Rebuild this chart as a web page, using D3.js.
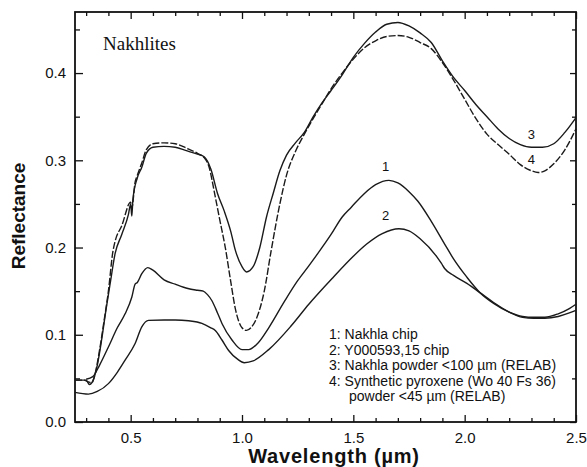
<!DOCTYPE html>
<html>
<head>
<meta charset="utf-8">
<script src="https://cdn.jsdelivr.net/npm/d3@7"></script>
<style>
  body { margin: 0; background: #fff; }
  svg text { font-family: "Liberation Sans", Arial, sans-serif; fill: #111; }
</style>
</head>
<body>
<svg id="chart" width="587" height="467"></svg>
<script>
// spectra (wavelength in um, reflectance)
var wl1 = [0.30,0.33,0.36,0.40,0.44,0.475,0.505,0.52,0.53,0.55,0.577,0.60,0.65,0.70,0.757,0.80,0.826,0.845,0.865,0.89,0.91,0.955,1.00,1.03,1.07,1.12,1.19,1.25,1.30,1.34,1.40,1.45,1.49,1.55,1.60,1.66,1.70,1.75,1.79,1.85,1.91,1.95,2.01,2.07,2.13,2.20,2.26,2.31,2.36,2.42,2.47,2.50];
var refl1 = [0.049,0.052,0.065,0.086,0.108,0.124,0.143,0.158,0.160,0.170,0.177,0.174,0.163,0.158,0.153,0.151,0.150,0.146,0.139,0.125,0.113,0.094,0.083,0.083,0.090,0.108,0.138,0.162,0.179,0.193,0.215,0.235,0.246,0.262,0.272,0.277,0.274,0.264,0.253,0.230,0.204,0.187,0.166,0.148,0.136,0.126,0.121,0.120,0.120,0.124,0.130,0.135];

var wl2 = [0.25,0.31,0.35,0.40,0.44,0.475,0.52,0.55,0.58,0.65,0.70,0.76,0.82,0.86,0.88,0.91,0.94,0.98,1.01,1.05,1.12,1.22,1.30,1.41,1.50,1.56,1.63,1.705,1.75,1.80,1.876,1.895,1.91,1.95,2.01,2.07,2.13,2.20,2.26,2.31,2.36,2.42,2.47,2.50];
var refl2 = [0.034,0.032,0.035,0.044,0.057,0.071,0.090,0.109,0.1165,0.117,0.117,0.116,0.113,0.108,0.105,0.094,0.082,0.072,0.068,0.070,0.083,0.110,0.135,0.166,0.190,0.204,0.216,0.2215,0.219,0.210,0.189,0.182,0.176,0.168,0.159,0.148,0.137,0.126,0.120,0.119,0.119,0.121,0.125,0.128];

var wl3 = [0.25,0.30,0.315,0.33,0.35,0.37,0.39,0.41,0.43,0.46,0.49,0.50,0.505,0.51,0.53,0.55,0.57,0.60,0.65,0.70,0.75,0.80,0.83,0.86,0.89,0.92,0.95,0.97,1.00,1.02,1.05,1.08,1.11,1.14,1.17,1.20,1.24,1.28,1.32,1.36,1.40,1.45,1.50,1.55,1.60,1.65,1.70,1.75,1.80,1.85,1.90,1.95,2.00,2.05,2.10,2.15,2.20,2.25,2.30,2.35,2.40,2.45,2.50];
var refl3 = [0.048,0.048,0.043,0.047,0.065,0.095,0.130,0.162,0.193,0.215,0.238,0.250,0.236,0.255,0.280,0.292,0.308,0.315,0.316,0.315,0.311,0.307,0.304,0.290,0.262,0.242,0.218,0.197,0.178,0.172,0.178,0.200,0.235,0.262,0.288,0.306,0.320,0.332,0.350,0.366,0.380,0.398,0.418,0.434,0.447,0.456,0.458,0.454,0.446,0.435,0.414,0.395,0.380,0.364,0.350,0.336,0.325,0.318,0.315,0.315,0.319,0.332,0.349];

var wl4 = [0.25,0.29,0.31,0.325,0.34,0.36,0.38,0.40,0.42,0.43,0.46,0.50,0.505,0.52,0.53,0.55,0.57,0.60,0.65,0.70,0.75,0.80,0.83,0.85,0.88,0.90,0.925,0.95,0.97,1.00,1.02,1.04,1.07,1.10,1.13,1.17,1.20,1.24,1.28,1.32,1.36,1.40,1.45,1.50,1.55,1.60,1.65,1.70,1.75,1.80,1.85,1.90,1.95,2.00,2.05,2.10,2.15,2.20,2.25,2.30,2.33,2.36,2.40,2.45,2.50];
var refl4 = [0.048,0.048,0.046,0.045,0.055,0.082,0.115,0.150,0.195,0.207,0.225,0.252,0.245,0.275,0.283,0.297,0.312,0.319,0.320,0.319,0.314,0.308,0.303,0.294,0.258,0.232,0.200,0.160,0.130,0.108,0.105,0.108,0.122,0.150,0.195,0.250,0.283,0.310,0.330,0.348,0.365,0.382,0.400,0.416,0.429,0.437,0.442,0.443,0.441,0.435,0.428,0.412,0.392,0.370,0.348,0.330,0.318,0.307,0.295,0.288,0.286,0.288,0.296,0.312,0.336];

var seriesIds = ["1", "2", "3", "4"];
var legendLines = [
  "1: Nakhla chip",
  "2: Y000593,15 chip",
  "3: Nakhla powder <100 \u00b5m (RELAB)",
  "4: Synthetic pyroxene (Wo 40 Fs 36)",
  "powder <45 \u00b5m (RELAB)"
];
var xTicks = [0.5, 1.0, 1.5, 2.0, 2.5];
var yTicks = [0.0, 0.1, 0.2, 0.3, 0.4];

var margin = {top: 12, right: 11, bottom: 45, left: 75};
var W = 587, H = 467;
var svg = d3.select("#chart");

var x = d3.scaleLinear().domain([0.25, 2.5]).range([margin.left, W - margin.right]);
var y = d3.scaleLinear().domain([0, 0.47]).range([H - margin.bottom, margin.top]);

// minor ticks
var xMinor = d3.range(0.3, 2.5, 0.1).filter(function(v){ return Math.abs(v*2 - Math.round(v*2)) > 1e-6; });
var yMinor = d3.range(0.05, 0.47, 0.1);

function axisG(axis, tx, ty) {
  var g = svg.append("g").attr("transform", "translate(" + tx + "," + ty + ")").call(axis);
  g.select(".domain").remove();
  g.selectAll("line").attr("stroke", "#111").attr("stroke-width", 1.3);
  return g;
}

// bottom
axisG(d3.axisBottom(x).tickValues(xTicks).tickSize(-7).tickPadding(10).tickFormat(d3.format(".1f")), 0, y(0))
  .selectAll("text").style("font-size", "15px");
axisG(d3.axisBottom(x).tickValues(xMinor).tickSize(-4).tickFormat(""), 0, y(0));
// top
axisG(d3.axisTop(x).tickValues(xTicks).tickSize(-7).tickFormat(""), 0, y(0.47));
axisG(d3.axisTop(x).tickValues(xMinor).tickSize(-4).tickFormat(""), 0, y(0.47));
// left
axisG(d3.axisLeft(y).tickValues(yTicks).tickSize(-8).tickPadding(9).tickFormat(d3.format(".1f")), x(0.25), 0)
  .selectAll("text").style("font-size", "15px");
axisG(d3.axisLeft(y).tickValues(yMinor).tickSize(-5).tickFormat(""), x(0.25), 0);
// right
axisG(d3.axisRight(y).tickValues(yTicks).tickSize(-6).tickFormat(""), x(2.5), 0);
axisG(d3.axisRight(y).tickValues(yMinor).tickSize(-4).tickFormat(""), x(2.5), 0);

svg.append("rect")
  .attr("x", x(0.25)).attr("y", y(0.47))
  .attr("width", x(2.5) - x(0.25)).attr("height", y(0) - y(0.47))
  .attr("fill", "none").attr("stroke", "#111").attr("stroke-width", 1.8);

var line = d3.line()
  .x(function(d){ return x(d[0]); })
  .y(function(d){ return y(d[1]); })
  .curve(d3.curveMonotoneX);

var series = [
  {id: "1", pts: d3.zip(wl1, refl1), dash: null},
  {id: "2", pts: d3.zip(wl2, refl2), dash: null},
  {id: "3", pts: d3.zip(wl3, refl3), dash: null},
  {id: "4", pts: d3.zip(wl4, refl4), dash: "7,2"}
];

var plot = svg.append("g");
plot.selectAll("path.spec").data(series).enter().append("path")
  .attr("class", "spec")
  .attr("d", function(d){ return line(d.pts); })
  .attr("fill", "none")
  .attr("stroke", "#1a1a1a")
  .attr("stroke-width", 1.4)
  .attr("stroke-dasharray", function(d){ return d.dash; });

// curve number labels
var numLabels = [[1.645, 0.2875], [1.645, 0.232], [2.3, 0.324], [2.3, 0.296]];
svg.selectAll("text.num").data(seriesIds).enter().append("text")
  .attr("class", "num")
  .attr("x", function(d, i){ return x(numLabels[i][0]); })
  .attr("y", function(d, i){ return y(numLabels[i][1]); })
  .attr("text-anchor", "middle")
  .style("font-size", "13px")
  .text(function(d){ return d; });

// legend
var leg = svg.append("g").attr("transform", "translate(329,339)");
leg.selectAll("text").data(legendLines).enter().append("text")
  .attr("x", function(d, i){ return i === 4 ? 20 : 0; })
  .attr("y", function(d, i){ return i * 15.5; })
  .style("font-size", "14px")
  .text(function(d){ return d; });

// title
svg.append("text")
  .attr("x", 103).attr("y", 50)
  .style("font-family", "'Liberation Serif', 'Times New Roman', serif")
  .style("font-size", "19px")
  .text("Nakhlites");

// axis titles
svg.append("text")
  .attr("x", 334).attr("y", 463)
  .attr("text-anchor", "middle")
  .style("font-size", "20px").style("font-weight", "bold")
  .style("letter-spacing", "0.8px")
  .text("Wavelength (\u00b5m)");

svg.append("text")
  .attr("transform", "translate(25,216) rotate(-90)")
  .attr("text-anchor", "middle")
  .style("font-size", "19px").style("font-weight", "bold")
  .text("Reflectance");
</script>
</body>
</html>
